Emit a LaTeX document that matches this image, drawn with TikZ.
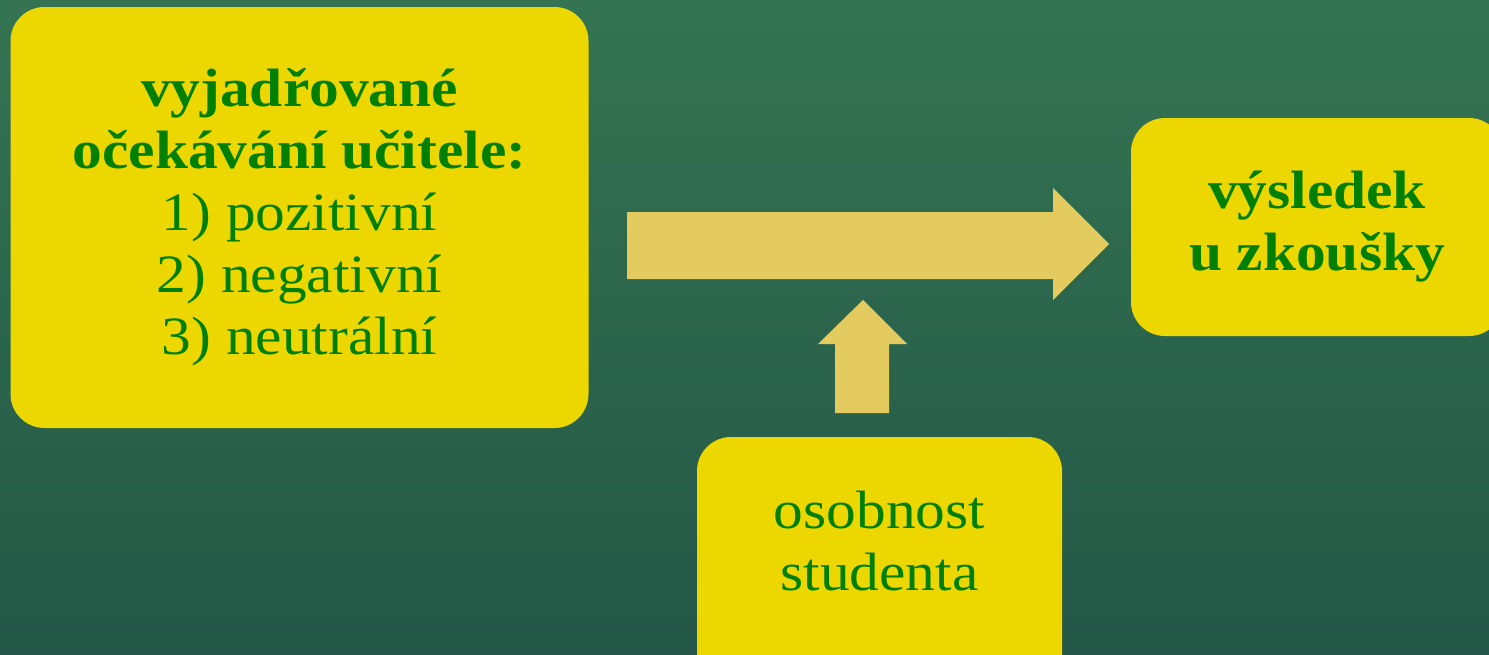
\documentclass[tikz,border=0pt]{standalone}
\usepackage{fontspec}
\setmainfont[FakeStretch=1.1]{Liberation Serif}
\usetikzlibrary{positioning}

\definecolor{boardtop}{RGB}{52,116,82}
\definecolor{boardbottom}{RGB}{35,86,70}
\definecolor{paper}{RGB}{236,216,0}
\definecolor{chalkgreen}{RGB}{0,128,0}
\definecolor{arrowfill}{RGB}{228,203,95}

\tikzset{
  card/.style={fill=paper,rounded corners=17pt,align=center,
    text=chalkgreen,font=\fontsize{27}{31}\selectfont},
  blockarrow/.style={fill=arrowfill}
}

\begin{document}
\begin{tikzpicture}[x=0.5pt,y=-0.5pt]
%% board
\useasboundingbox (0,0) rectangle (1489,654);
\clip (0,0) rectangle (1489,654);
\shade[top color=boardtop,bottom color=boardbottom] (0,0) rectangle (1489,654);
%% cards
\node[card,minimum width=289pt,minimum height=210.5pt] (expect) at (299.5,217.5)
  {\textbf{vyjadřované}\\\textbf{očekávání učitele:}\\1) pozitivní\\2) negativní\\3) neutrální};
\node[card,minimum width=186pt,minimum height=109pt] (result) at (1317,227)
  {\textbf{výsledek}\\\textbf{u zkoušky}};
\node[card,minimum width=182.5pt,minimum height=130pt,text depth=26pt] (person) at (879.5,567)
  {osobnost\\studenta};
%% arrows
\fill[blockarrow] (627,212) -- (1053,212) -- (1053,188) -- (1109,244)
  -- (1053,300) -- (1053,279) -- (627,279) -- cycle;
\fill[blockarrow] (835,413) -- (835,344) -- (818,344) -- (863,300)
  -- (907,344) -- (889,344) -- (889,413) -- cycle;
\end{tikzpicture}
\end{document}
